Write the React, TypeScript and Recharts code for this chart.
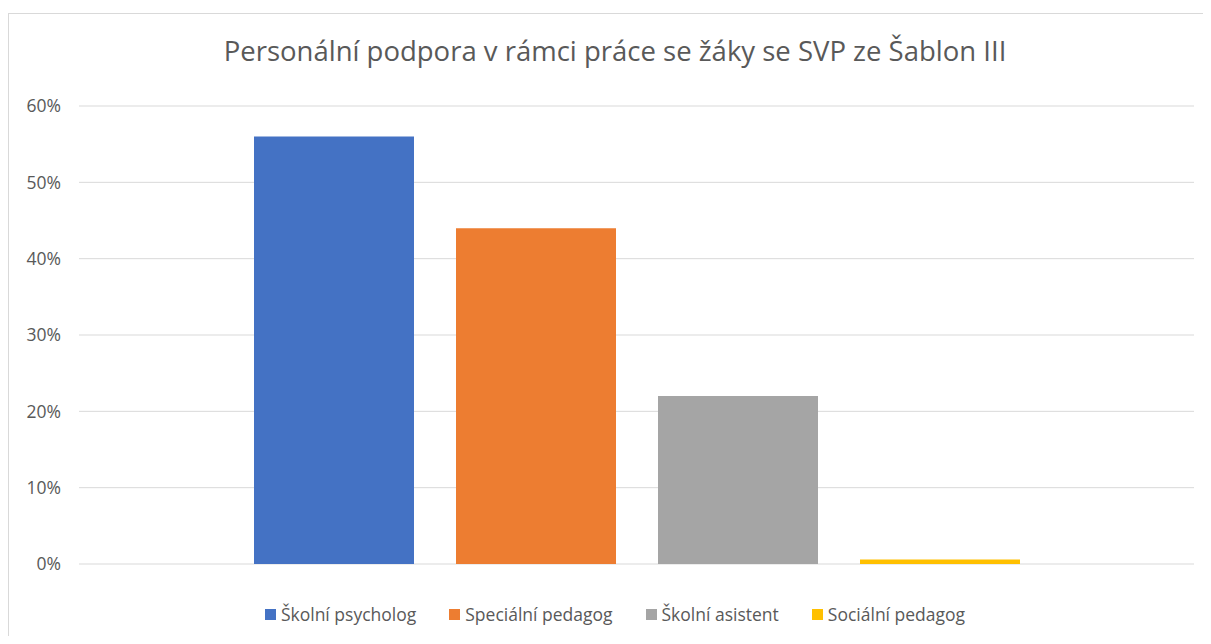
import { BarChart, Bar, XAxis, YAxis, CartesianGrid, Legend } from "recharts";

const categories = ["Personální podpora"];
const seriesNames = ["Školní psycholog", "Speciální pedagog", "Školní asistent", "Sociální pedagog"];
const seriesValues = [0.56, 0.44, 0.22, 0.006];
const seriesColors = ["#4472C4", "#ED7D31", "#A5A5A5", "#FFC000"];
const yTicks = [0, 0.1, 0.2, 0.3, 0.4, 0.5, 0.6];
const title = "Personální podpora v rámci práce se žáky se SVP ze Šablon III";

const keys = seriesNames.map((_, i) => `s${i}`);
const data = categories.map((c) => {
  const row: Record<string, string | number> = { name: c };
  keys.forEach((k, i) => (row[k] = seriesValues[i]));
  return row;
});

const FONT = "'Open Sans', 'Noto Sans', sans-serif";
const TEXT = "#595959";

// keep legend in series order (recharts sorts by name otherwise)
const LegendContent = ({ payload }: any) => {
  const items = [...(payload || [])].sort(
    (a: any, b: any) => seriesNames.indexOf(a.value) - seriesNames.indexOf(b.value)
  );
  return (
    <div style={{ display: "flex", justifyContent: "center", height: 24, alignItems: "center", fontFamily: FONT, fontSize: 17.5, color: TEXT }}>
      {items.map((p: any, i: number) => (
        <div key={i} style={{ display: "flex", alignItems: "center", marginRight: i < items.length - 1 ? 33 : 0 }}>
          <span style={{ width: 11, height: 11, background: p.color, marginRight: 5, display: "inline-block" }} />
          <span>{p.value}</span>
        </div>
      ))}
    </div>
  );
};

export default function App() {
  return (
    <div style={{ position: "relative", width: 1195, height: 628 }}>
      <div
        style={{
          position: "absolute",
          left: 0,
          top: 5,
          width: 1203,
          height: 631,
          borderLeft: "1px solid #d9d9d9",
          borderTop: "1px solid #d9d9d9",
          boxSizing: "border-box",
        }}
      />
      <div
        style={{
          position: "absolute",
          left: 0,
          width: 1214,
          top: 24,
          textAlign: "center",
          fontFamily: FONT,
          fontSize: 27.5,
          color: TEXT,
          whiteSpace: "nowrap",
        }}
      >
        {title}
      </div>
      <BarChart
        width={1195}
        height={628}
        data={data}
        margin={{ top: 98, right: 9, bottom: 48, left: 0 }}
        barSize={160}
        barGap={42}
        style={{ position: "absolute", left: 0, top: 0 }}
      >
        <CartesianGrid vertical={false} stroke="#d9d9d9" strokeWidth={1} />
        <XAxis dataKey="name" hide />
        <YAxis
          width={71}
          domain={[0, 0.6]}
          ticks={yTicks}
          tickFormatter={(v: number) => `${Math.round(v * 100)}%`}
          axisLine={false}
          tickLine={false}
          tickSize={0}
          tickMargin={18}
          tick={{ fill: TEXT, fontSize: 17.5, fontFamily: FONT }}
        />
        <Legend
          verticalAlign="bottom"
          content={<LegendContent />}
          wrapperStyle={{ bottom: 10, left: 0, width: 1214 }}
        />
        {keys.map((k, i) => (
          <Bar key={k} dataKey={k} name={seriesNames[i]} fill={seriesColors[i]} isAnimationActive={false} />
        ))}
      </BarChart>
    </div>
  );
}
